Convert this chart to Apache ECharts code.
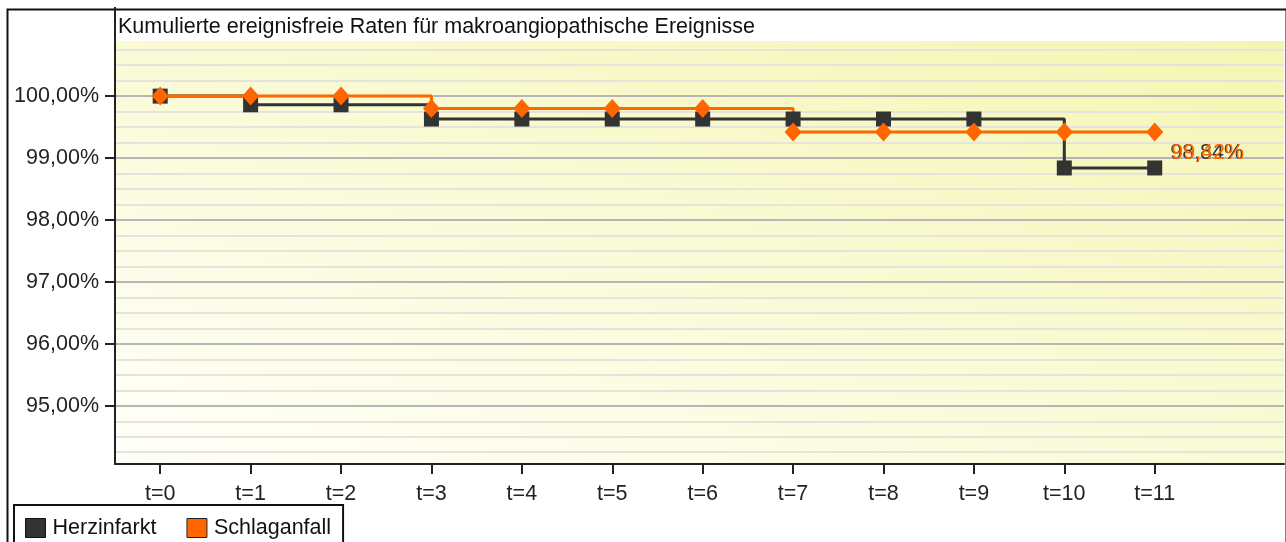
<!DOCTYPE html>
<html>
<head>
<meta charset="utf-8">
<script src="https://cdn.jsdelivr.net/npm/echarts@6/dist/echarts.min.js"></script>
<style>
html,body{margin:0;padding:0;background:#fff;}
#c{width:1286px;height:542px;}
</style>
</head>
<body>
<div id="c"></div>
<script>
var titleText = 'Kumulierte ereignisfreie Raten für makroangiopathische Ereignisse';
var categories = ['t=0','t=1','t=2','t=3','t=4','t=5','t=6','t=7','t=8','t=9','t=10','t=11'];
var herzinfarkt = [100, 99.86, 99.86, 99.63, 99.63, 99.63, 99.63, 99.63, 99.63, 99.63, 98.84, 98.84];
var schlaganfall = [100, 100, 100, 99.80, 99.80, 99.80, 99.80, 99.42, 99.42, 99.42, 99.42, 99.42];
var yMajorTicks = [95, 96, 97, 98, 99, 100];
var yMinorTicks = [94.25,94.5,94.75,95.25,95.5,95.75,96.25,96.5,96.75,97.25,97.5,97.75,98.25,98.5,98.75,99.25,99.5,99.75,100.25,100.5,100.75];
var xTicks = [0,1,2,3,4,5,6,7,8,9,10,11];

var FONT = '"Liberation Sans", Arial, sans-serif';
var FS = 21.5;
function pct(v){ return v.toFixed(2).replace('.', ',') + '%'; }

function buildData(values, labelColor, offsetY){
  return values.map(function(v, i){
    var item = { value: [i, v] };
    if (i === values.length - 1) {
      item.label = {
        show: true, position: 'right', distance: 8, offset: [0, offsetY],
        color: labelColor, fontSize: FS, fontFamily: FONT,
        formatter: function(p){ return pct(p.value[1]); }
      };
    }
    return item;
  });
}

var chart = echarts.init(document.getElementById('c'), null, {renderer: 'canvas'});
chart.setOption({
  animation: false,
  backgroundColor: '#ffffff',
  title: {
    text: titleText, left: 118, top: 16, padding: 0,
    textStyle: { fontSize: FS, fontWeight: 'normal', color: '#111', fontFamily: FONT }
  },
  graphic: [{
    type: 'rect', left: 5, top: 7, z: 100, silent: true,
    shape: { width: 1279, height: 600 },
    style: { fill: 'none', stroke: '#111', lineWidth: 2 }
  }, {
    type: 'line', z: 100, silent: true,
    shape: { x1: 115, y1: 7, x2: 115, y2: 42 },
    style: { stroke: '#222', lineWidth: 2 }
  }],
  legend: {
    left: 14, top: 505, orient: 'horizontal',
    padding: [12, 12, 30, 11],
    backgroundColor: '#fff', borderColor: '#111', borderWidth: 2,
    itemWidth: 20, itemHeight: 19, itemGap: 30,
    textStyle: { fontSize: FS, color: '#111', fontFamily: FONT, padding: [0,0,0,2] },
    data: [
      { name: 'Herzinfarkt', icon: 'rect', itemStyle: { color: '#333333', borderColor: '#111', borderWidth: 1 } },
      { name: 'Schlaganfall', icon: 'rect', itemStyle: { color: '#ff6600', borderColor: '#222', borderWidth: 1 } }
    ]
  },
  grid: {
    left: 115, top: 41, right: 2, bottom: 78, containLabel: false,
    show: true, borderWidth: 0,
    backgroundColor: {
      type: 'linear', global: true, x: 1283, y: 41, x2: 1012, y2: 789,
      colorStops: [
        { offset: 0, color: '#f5f5b2' },
        { offset: 0.5, color: '#fafad6' },
        { offset: 1, color: '#fffffa' }
      ]
    }
  },
  xAxis: {
    type: 'value', min: -0.5, max: 12.43,
    axisLine: { show: true, onZero: false, lineStyle: { color: '#222', width: 2 } },
    axisTick: { show: true, customValues: xTicks, length: 10, lineStyle: { color: '#222', width: 2 } },
    axisLabel: {
      customValues: xTicks, margin: 19, fontSize: FS, color: '#222', fontFamily: FONT,
      formatter: function(v){ return categories[Math.round(v)]; }
    },
    splitLine: { show: false }
  },
  yAxis: [{
    type: 'value', min: 94.06, max: 100.89, position: 'left',
    axisLine: { show: true, onZero: false, lineStyle: { color: '#222', width: 2 } },
    axisTick: { show: false, customValues: yMinorTicks },
    axisLabel: { show: false },
    splitLine: { show: true, lineStyle: { color: '#e4e4dc', width: 2 } }
  }, {
    type: 'value', min: 94.06, max: 100.89, position: 'left', offset: 0,
    axisLine: { show: false, onZero: false },
    axisTick: { show: true, customValues: yMajorTicks, length: 10, lineStyle: { color: '#222', width: 2 } },
    axisLabel: {
      customValues: yMajorTicks, margin: 16, fontSize: FS, color: '#222', fontFamily: FONT,
      formatter: function(v){ return pct(v); }
    },
    splitLine: { show: true, lineStyle: { color: '#b6b6b6', width: 2 } }
  }],
  series: [{
    name: 'Herzinfarkt', type: 'line', step: 'end', yAxisIndex: 0,
    data: buildData(herzinfarkt, '#333333', -15),
    symbol: 'rect', symbolSize: 15,
    lineStyle: { color: '#333333', width: 3 },
    itemStyle: { color: '#333333' }
  }, {
    name: 'Schlaganfall', type: 'line', step: 'end', yAxisIndex: 0,
    data: buildData(schlaganfall, '#ff6600', 21),
    symbol: 'diamond', symbolSize: [17, 19],
    lineStyle: { color: '#ff6600', width: 3 },
    itemStyle: { color: '#ff6600' }
  }]
});
</script>
</body>
</html>
